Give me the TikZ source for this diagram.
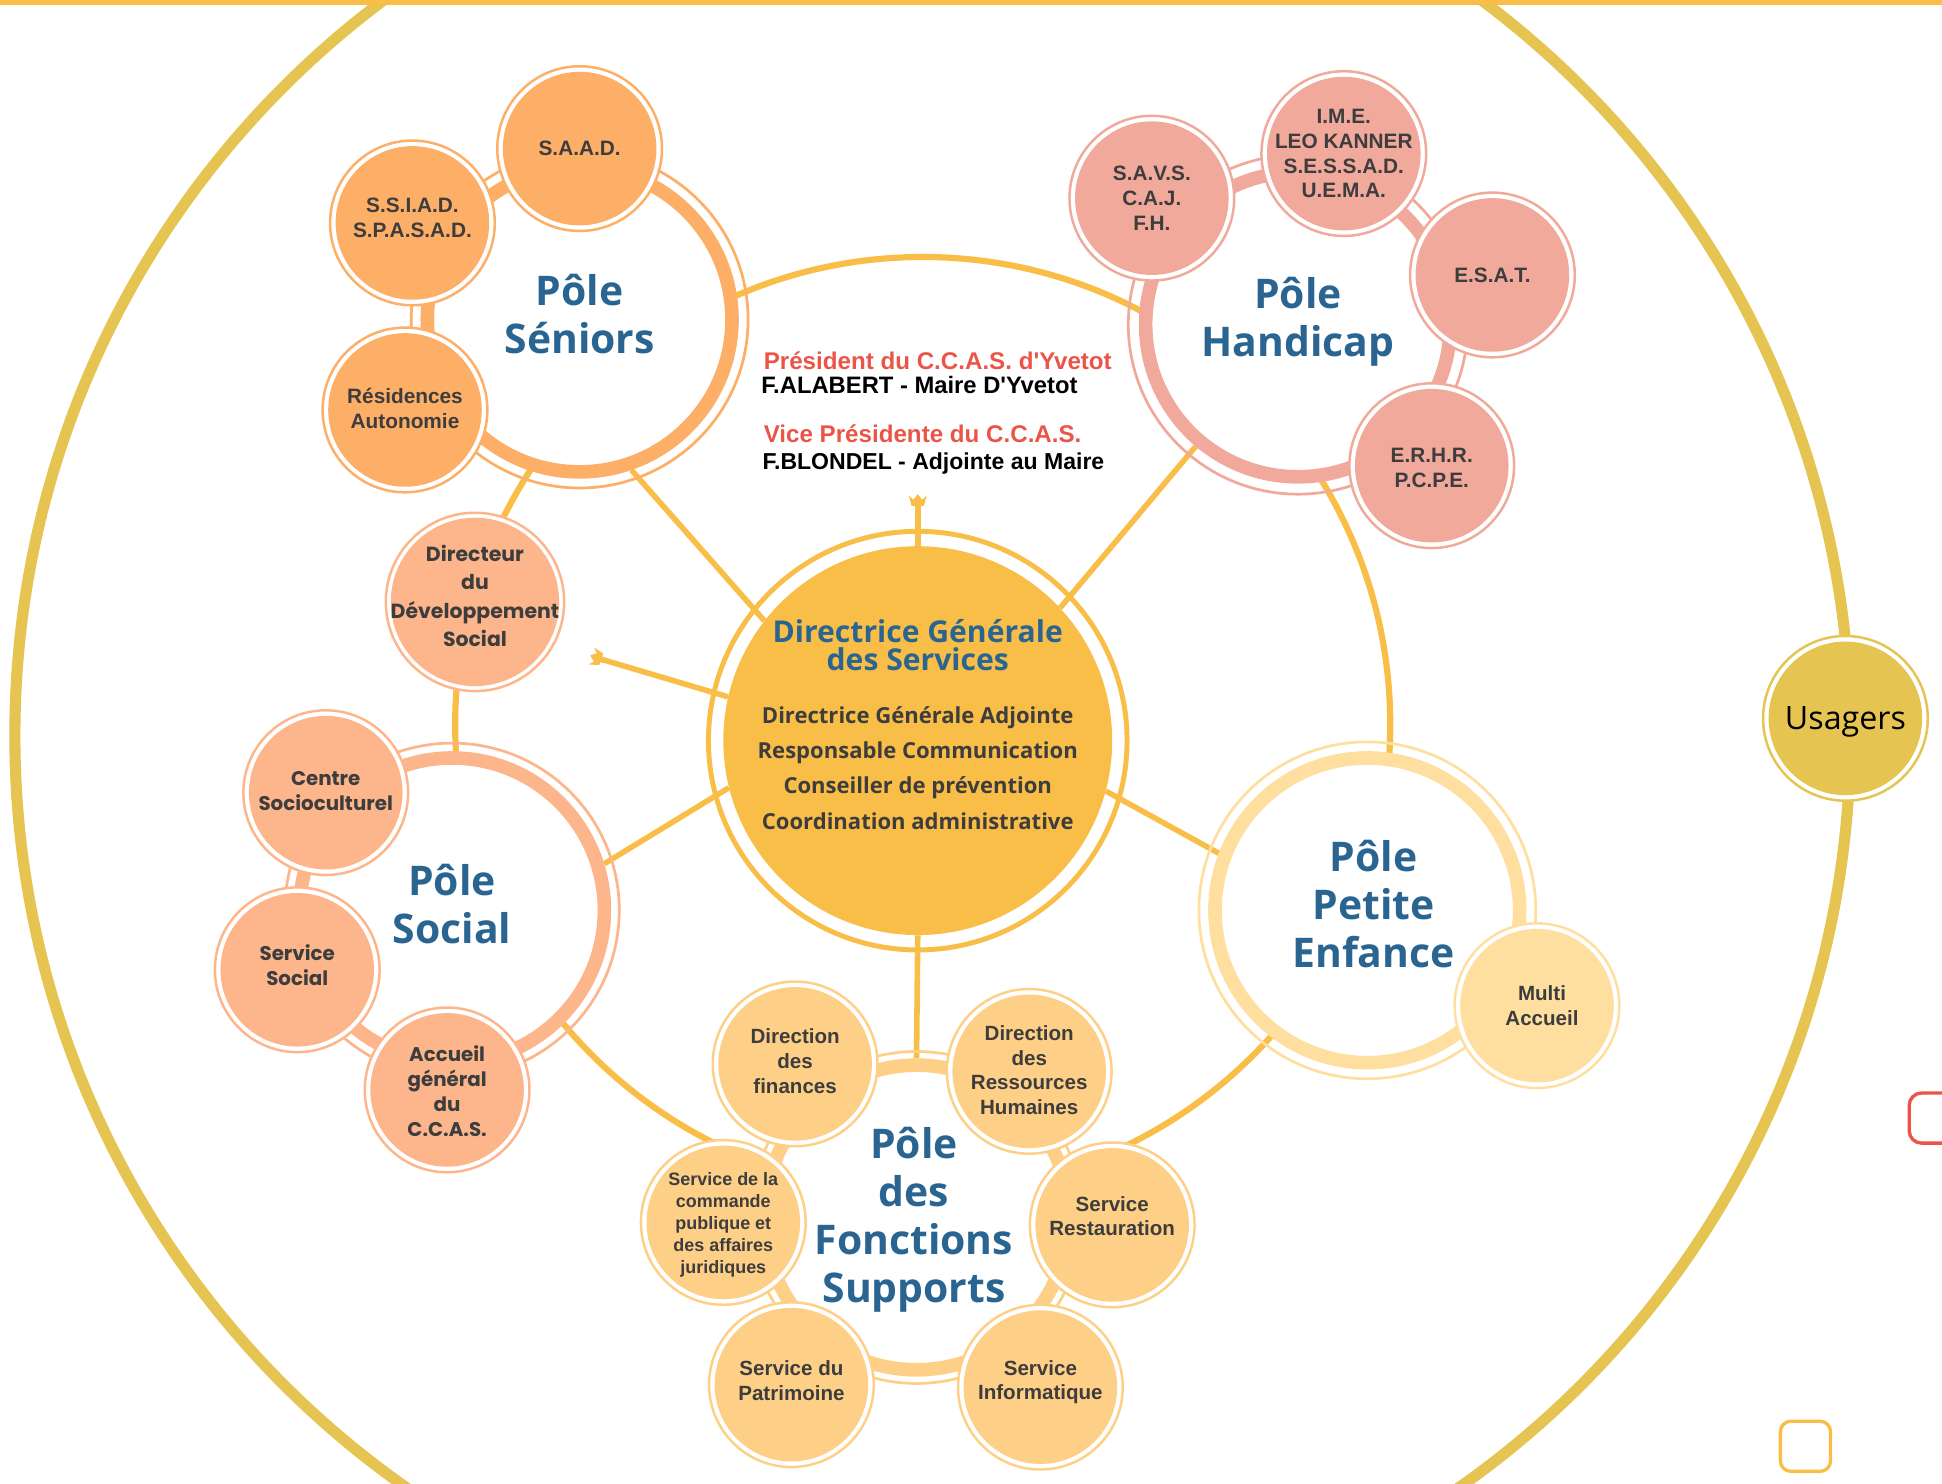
\documentclass[tikz,border=0pt]{standalone}
\usepackage{fontspec}
\setmainfont{Open Sans}
\newfontfamily\libs{Liberation Sans}
\newfontfamily\popp{Poppins}
\usetikzlibrary{calc}
\definecolor{cSen}{HTML}{FDAE67}
\definecolor{cHan}{HTML}{F0A99B}
\definecolor{cSoc}{HTML}{FDB68C}
\definecolor{cFon}{HTML}{FECF87}
\definecolor{cPE}{HTML}{FEDF9F}
\definecolor{cDGS}{HTML}{F9BE48}
\definecolor{cGold}{HTML}{E5C452}
\definecolor{cLine}{HTML}{F9BE48}
\definecolor{cBlue}{HTML}{2A6592}
\definecolor{cTxt}{HTML}{3D3D3D}
\definecolor{cRed}{HTML}{EA5548}
\pgfdeclarelayer{lzero}
\pgfdeclarelayer{lone}
\pgfsetlayers{lzero,lone,main}
\newcommand\mySen{\libs\bfseries\fontsize{16.8}{20}\selectfont}
\newcommand\mySoc{\popp\bfseries\fontsize{16}{20}\selectfont}
\newcommand\myDir{\popp\bfseries\fontsize{16.5}{23}\selectfont}
\newcommand\myFon{\libs\bfseries\fontsize{16.6}{20}\selectfont}
\newcommand\myCom{\libs\bfseries\fontsize{14.5}{17.7}\selectfont}
\newcommand\myHead{\libs\bfseries\fontsize{19.5}{22}\selectfont}
% name, position, style, font, text-offset, text
\newcommand\mysub[6]{\node[#3] (#1) at #2 {};\node[subT,font=#4] (#1t) at ($(#1.center)+(0,#5)$) {#6};}
\tikzset{
  crown/.pic={
    \fill[cLine] (-5,0) -- (5,0) -- (7.2,-8.5) -- (3.6,-5) -- (0,-9.5) -- (-3.6,-5) -- (-7.2,-8.5) -- cycle;
    \fill[cLine] (-2.3,-0.5) rectangle (2.3,3);
  }
}
\begin{document}
\begin{tikzpicture}[x=1pt,y=-1pt,
  poleC/.style={circle, inner sep=0, minimum size=246, fill=white, draw=#1, line width=11},
  poleRing/.style={draw=#1, line width=2.2},
  subC/.style={circle, inner sep=0, minimum size=133, fill=white, draw=#1, line width=2,
     path picture={\fill[#1] (path picture bounding box.center) circle[radius=62pt];}},
  subL/.style={circle, inner sep=0, minimum size=144, fill=white, draw=#1, line width=2,
     path picture={\fill[#1] (path picture bounding box.center) circle[radius=68pt];}},
  subT/.style={align=center, text=cTxt, inner sep=0},
  ptitle/.style={text=cBlue, align=center, inner sep=0, font=\bfseries\fontsize{33}{38.6}\selectfont},
  conn/.style={draw=cLine, line width=4.5},
  head/.style={anchor=base west, inner sep=0, font=\myHead}
]
\useasboundingbox (0,0) rectangle (1568,1198);
\coordinate (goldC) at (753,594);
\coordinate (ringC) at (745,585);

% ---------- poles ----------
\node[poleC=cSen] (sen) at (468,258) {};
\draw[poleRing=cSen] (sen.center) circle[radius=136pt];
\node[poleC=cHan] (han) at (1048,262) {};
\draw[poleRing=cHan] (han.center) circle[radius=137pt];
\node[poleC=cSoc] (soc) at (365,735) {};
\draw[poleRing=cSoc] (soc.center) circle[radius=135pt];
\node[poleC=cFon] (fon) at (740,983) {};
\draw[poleRing=cFon] (fon.center) circle[radius=134pt];
\node[poleC=cPE] (pe) at (1104,735) {};
\draw[poleRing=cPE] (pe.center) circle[radius=136pt];

\node[ptitle] (senT) at (468,253.5) {Pôle\\Séniors};
\node[ptitle] (hanT) at (1048,260) {Pôle\\Handicap};
\node[ptitle] (socT) at (365,730) {Pôle\\Social};
\node[ptitle] (fonT) at (738,985) {Pôle\\des\\Fonctions\\Supports};
\node[ptitle] (peT) at (1109,730) {Pôle\\Petite\\Enfance};

% ---------- sub circles ----------
\mysub{saad}{(468,120)}{subC=cSen}{\mySen}{0}{S.A.A.D.}
\mysub{ssiad}{(333,180)}{subC=cSen}{\mySen}{-4}{S.S.I.A.D.\\S.P.A.S.A.D.}
\mysub{resid}{(327,331)}{subC=cSen}{\mySen}{-1}{Résidences\\Autonomie}

\mysub{savs}{(930,160)}{subC=cHan}{\mySen}{0}{S.A.V.S.\\C.A.J.\\F.H.}
\mysub{ime}{(1085,124)}{subC=cHan}{\mySen}{0}{I.M.E.\\LEO KANNER\\S.E.S.S.A.D.\\U.E.M.A.}
\mysub{esat}{(1205,222)}{subC=cHan}{\mySen}{0}{E.S.A.T.}
\mysub{erhr}{(1156,376)}{subC=cHan}{\mySen}{2}{E.R.H.R.\\P.C.P.E.}

\mysub{dir}{(383.5,486)}{subL=cSoc}{\myDir}{-5}{Directeur\\du\\Développement\\Social}
\mysub{centre}{(263,640)}{subC=cSoc}{\mySoc}{-1}{Centre\\Socioculturel}
\mysub{servsoc}{(240,783)}{subC=cSoc}{\mySoc}{-4}{Service\\Social}
\mysub{accueil}{(361,880)}{subC=cSoc}{\mySoc}{1}{Accueil\\général\\du\\C.C.A.S.}

\mysub{fin}{(642,859)}{subC=cFon}{\myFon}{-2}{Direction\\des\\finances}
\mysub{drh}{(831,865)}{subC=cFon}{\myFon}{-1}{Direction\\des\\Ressources\\Humaines}
\mysub{com}{(584,987)}{subC=cFon}{\myCom}{2}{Service de la\\commande\\publique et\\des affaires\\juridiques}
\mysub{rest}{(898,989)}{subC=cFon}{\myFon}{-7}{Service\\Restauration}
\mysub{patr}{(639,1118)}{subC=cFon}{\myFon}{-3}{Service du\\Patrimoine}
\mysub{info}{(840,1120)}{subC=cFon}{\myFon}{-4}{Service\\Informatique}

\node[subC=cPE] (multi) at (1241,812) {};
\node[subT, font=\myFon] (multit) at (1245,812) {Multi\\Accueil};

\node[subC=cGold] (usa) at (1490,580) {};
\node[inner sep=0, text=black, font=\fontsize{26}{30}\selectfont] (usaT) at (1490,582.5) {Usagers};

% ---------- DGS ----------
\node[circle, inner sep=0, minimum size=314, fill=cDGS] (dgs) at (741,598) {};
\draw[cDGS, line width=4] (dgs.center) circle[radius=169pt];
\node[text=cBlue, align=center, inner sep=0, font=\bfseries\fontsize{24.3}{23}\selectfont] (dgsT) at (741,521) {Directrice Générale\\des Services};
\node[text=cTxt, align=center, inner sep=0, font=\bfseries\fontsize{17.8}{28.5}\selectfont] (dgsL) at (741,620) {Directrice Générale Adjointe\\Responsable Communication\\Conseiller de prévention\\Coordination administrative};

% ---------- header ----------
\node[head, text=cRed] (pres1) at (616.5,298) {Président du C.C.A.S. d'Yvetot};
\node[head, text=black, font=\libs\bfseries\fontsize{19.2}{22}\selectfont] (pres2) at (614.5,318) {F.ALABERT - Maire D'Yvetot};
\node[head, text=cRed] (vp1) at (616.5,357.5) {Vice Présidente du C.C.A.S.};
\node[head, text=black, font=\libs\bfseries\fontsize{18.6}{22}\selectfont] (vp2) at (615.5,379) {F.BLONDEL - Adjointe au Maire};

% ---------- pins ----------
\coordinate (pinT) at (741,408.5);
\pic at (pinT) {crown};
\coordinate (pinL) at (485.5,532.3);
\pic[rotate=71.6] at (pinL) {crown};

% ---------- connectors ----------
\begin{pgfonlayer}{lone}
\draw[cLine, line width=5] (ringC) circle[radius=377.5pt];
\draw[conn] (dgs.142.2) -- (sen.-71.85);
\draw[conn] (dgs.43.8) -- (han.230.7);
\draw[conn] (dgs.194.9) -- (soc.17.1);
\draw[conn] (dgs.-15.3) -- (pe.159.5);
\draw[conn] (dgs.south) -- (fon.north);
\draw[conn] (dgs.167.9) -- (pinL);
\draw[conn] (dgs.north) -- (pinT);
\end{pgfonlayer}

\begin{pgfonlayer}{lzero}
\begin{scope}
\clip (0,0) rectangle (1568,1198);
\draw[cGold, line width=9] (goldC) circle[radius=741pt];
\end{scope}
\end{pgfonlayer}

% ---------- frame details ----------
\begin{scope}
\clip (0,0) rectangle (1568,1198);
\fill[cDGS] (0,0) rectangle (1568,4);
\draw[cRed, line width=2.7, rounded corners=10] (1541.5,882.5) rectangle (1600,923);
\draw[cDGS, line width=2.7, rounded corners=8.5] (1437.5,1147.5) rectangle (1478,1188);
\end{scope}
\end{tikzpicture}
\end{document}
